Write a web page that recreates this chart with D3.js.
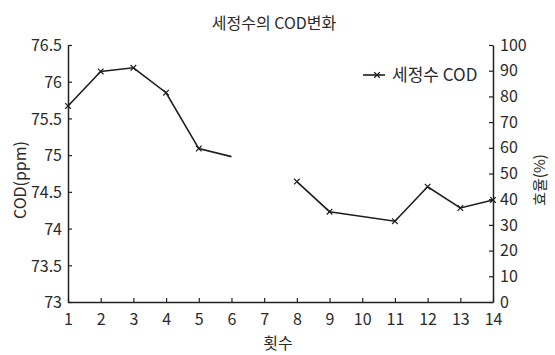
<!DOCTYPE html>
<html>
<head>
<meta charset="utf-8">
<script src="https://cdn.jsdelivr.net/npm/d3@7"></script>
<style>
  body { margin: 0; background: #fff; }
  text { font-family: "Noto Sans CJK KR", "Noto Sans", sans-serif; fill: #2a2a2a; }
</style>
</head>
<body>
<div id="chart"></div>
<script>
// data
const rounds = [1, 2, 3, 4, 5, 6, 7, 8, 9, 11, 12, 13, 14]   // 10 has no point
const codValues = [75.67, 76.14, 76.19, 75.85, 75.09, 74.98, null, 74.64, 74.23, 74.10, 74.57, 74.28, 74.39]
const xTicks = d3.range(1, 15)
const leftTicks = [73, 73.5, 74, 74.5, 75, 75.5, 76, 76.5]
const rightTicks = d3.range(0, 101, 10)
const seriesName = '세정수 COD'

const width = 555, height = 355
const m = { left: 68, right: 62, top: 45, bottom: 53 }
const w = width - m.left - m.right
const h = height - m.top - m.bottom

const svg = d3.select('#chart').append('svg')
    .attr('width', width)
    .attr('height', height)

const g = svg.append('g').attr('transform', `translate(${m.left},${m.top})`)

const x = d3.scaleLinear().domain([1, 14]).range([0, w])
const y1 = d3.scaleLinear().domain([73, 76.5]).range([h, 0])
const y2 = d3.scaleLinear().domain([0, 100]).range([h, 0])

function styleAxis(sel) {
    sel.selectAll('path').attr('stroke', '#222').attr('stroke-width', 1.5)
    sel.selectAll('line').attr('stroke', '#222').attr('stroke-width', 1.2)
    sel.selectAll('text').style('font-size', '16px').attr('fill', '#2a2a2a')
}

// x axis, ticks pointing inward
g.append('g')
    .attr('transform', `translate(0,${h})`)
    .call(d3.axisBottom(x).tickValues(xTicks).tickSizeInner(-4).tickSizeOuter(0).tickPadding(12))
    .call(styleAxis)

// left axis
g.append('g')
    .call(d3.axisLeft(y1).tickValues(leftTicks).tickFormat(d3.format('')).tickSizeInner(-4).tickSizeOuter(0).tickPadding(6))
    .call(styleAxis)
    .selectAll('text').attr('dy', '0.36em')

// right axis
g.append('g')
    .attr('transform', `translate(${w},0)`)
    .call(d3.axisRight(y2).tickValues(rightTicks).tickSizeInner(-4).tickSizeOuter(0).tickPadding(7))
    .call(styleAxis)

// series line, broken at 7
const line = d3.line()
    .defined(d => d[1] != null)
    .x(d => x(d[0]))
    .y(d => y1(d[1]))

const pts = rounds.map((r, i) => [r, codValues[i]])

g.append('path')
    .datum(pts)
    .attr('fill', 'none')
    .attr('stroke', '#1e1e1e')
    .attr('stroke-width', 1.6)
    .attr('d', line)

// x markers (none visible at 6)
const marker = d3.symbol().type(d3.symbolX).size(22)
g.selectAll('.mk')
    .data(pts.filter(d => d[1] != null && d[0] !== 6))
    .join('path')
    .attr('class', 'mk')
    .attr('transform', d => `translate(${x(d[0])},${y1(d[1])})`)
    .attr('d', marker)
    .attr('fill', 'none')
    .attr('stroke', '#1e1e1e')
    .attr('stroke-width', 1.2)

// legend
const lg = svg.append('g').attr('transform', 'translate(363,75)')
lg.append('line').attr('x1', 0).attr('x2', 22).attr('y1', 0).attr('y2', 0)
    .attr('stroke', '#1e1e1e').attr('stroke-width', 1.6)
lg.append('path').attr('transform', 'translate(14,0)').attr('d', marker)
    .attr('fill', 'none').attr('stroke', '#1e1e1e').attr('stroke-width', 1.2)
lg.append('text').attr('x', 29).attr('y', 0).attr('dy', '0.36em')
    .style('font-size', '17px').text(seriesName)

// title and axis names
svg.append('text')
    .attr('x', 274).attr('y', 29)
    .attr('text-anchor', 'middle')
    .style('font-size', '16px')
    .text('세정수의 COD변화')

svg.append('text')
    .attr('x', 278).attr('y', 349)
    .attr('text-anchor', 'middle')
    .style('font-size', '16px')
    .text('횟수')

svg.append('text')
    .attr('transform', 'translate(20,180) rotate(-90)')
    .attr('text-anchor', 'middle')
    .attr('dy', '0.36em')
    .style('font-size', '16px')
    .text('COD(ppm)')

svg.append('text')
    .attr('transform', 'translate(540,180) rotate(-90)')
    .attr('text-anchor', 'middle')
    .attr('dy', '0.36em')
    .style('font-size', '15px')
    .text('효율(%)')
</script>
</body>
</html>
